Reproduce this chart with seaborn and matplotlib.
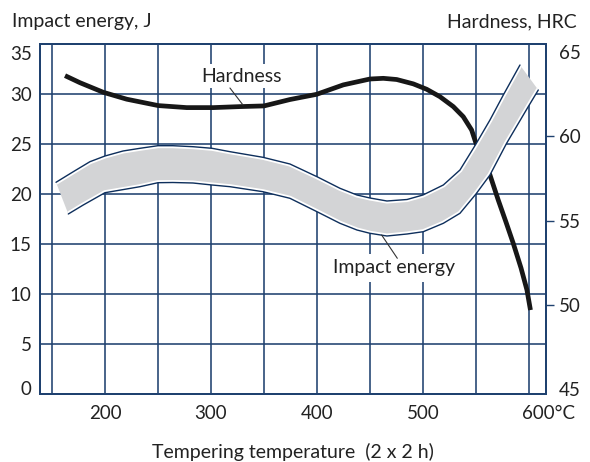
import numpy as np
import pandas as pd
import matplotlib
matplotlib.use("Agg")
import matplotlib.pyplot as plt
import seaborn as sns
from matplotlib.transforms import ScaledTranslation

# ---------------- data ----------------
temp_hard = [162.3, 176.4, 198.4, 220.5, 250.3, 277.1, 302.2, 327.4, 350, 374.5,
             399.7, 424.8, 450, 462.6, 475.2, 490.9, 503.5, 516.0, 528.6,
             538.0, 545.9, 550.0, 563.2, 571.0, 578.3, 585.2, 592.5, 598.1,
             601.4]
hardness_hrc = [63.61, 63.19, 62.62, 62.21, 61.83, 61.71, 61.71, 61.77, 61.81,
                62.19, 62.50, 63.06, 63.41, 63.45, 63.38, 63.12, 62.80, 62.36,
                61.77, 61.17, 60.38, 59.59, 57.71, 56.22, 54.91, 53.64, 52.18,
                50.87, 49.68]

temp_upper = [153.8, 170.1, 185.8, 200, 217, 233, 250, 264, 283, 301, 318, 349,
              374.5, 400, 421.7, 437.7, 450, 466, 485, 500, 519.2, 534.9, 550,
              563.2, 575.8, 591.5]
impact_upper = [21.17, 22.23, 23.23, 23.8, 24.3, 24.57, 24.83, 24.83, 24.73,
                24.57, 24.23, 23.67, 23.0, 21.73, 20.57, 19.9, 19.6, 19.3,
                19.45, 19.9, 20.9, 22.4, 25.0, 27.4, 29.9, 32.9]

temp_lower = [165.4, 179.5, 200, 233, 250, 264, 283, 301, 318, 349, 374.5, 400,
              421.7, 437.7, 450, 466, 485, 500.3, 519.2, 534.9, 550, 563.2,
              578.9, 599.3, 608.8]
impact_lower = [18.0, 18.9, 20.13, 20.73, 21.13, 21.15, 21.1, 20.9, 20.73,
                20.23, 19.57, 18.23, 17.07, 16.4, 16.07, 15.8, 16.0, 16.23,
                17.07, 18.07, 20.0, 21.9, 25.07, 28.73, 30.4]

x_ticks = [150, 200, 250, 300, 350, 400, 450, 500, 550, 600]
x_labels = ["", "200", "", "300", "", "400", "", "500", "", "600°C"]
left_ticks = [0, 5, 10, 15, 20, 25, 30, 35]
right_ticks = [45, 50, 55, 60, 65]

# ---------------- style ----------------
sns.set_theme(style="white")
plt.rcParams["font.family"] = ["Lato", "DejaVu Sans"]
GRID = "#1f416f"
LINE_BLUE = "#0e2f5c"
BAND = "#d3d4d6"
HARD = "#171717"
TXT = "#222222"
TICK_FS = 13.5
LABEL_FS = 14

fig = plt.figure(figsize=(5.9, 4.62), dpi=100)
ax = fig.add_axes([40 / 590, 68 / 462, 505.5 / 590, 350 / 462])
ax2 = ax.twinx()

# grid
ax.set_xticks(x_ticks)
ax.set_xticklabels(x_labels)
ax.set_yticks(left_ticks)
ax.set_yticklabels([str(v) for v in left_ticks])
ax.grid(True, color=GRID, lw=1.15)
ax.set_axisbelow(True)
for a in (ax, ax2):
    for s in a.spines.values():
        s.set_color(GRID)
        s.set_linewidth(1.4)

ax.tick_params(axis="x", length=0, pad=8, labelsize=TICK_FS, labelcolor=TXT)
ax.tick_params(axis="y", length=0, pad=6, labelsize=TICK_FS, labelcolor=TXT)
ax2.set_yticks(right_ticks)
ax2.set_yticklabels([str(v) for v in right_ticks])
ax2.tick_params(axis="y", length=6, width=1.0, color=GRID, pad=3.5,
                labelsize=TICK_FS, labelcolor=TXT)
ax2.grid(False)
mt = ax2.yaxis.get_major_ticks()
mt[0].tick2line.set_visible(False)
mt[-1].tick2line.set_visible(False)

# label tweaks
yl = ax.get_yticklabels()
yl[-1].set_transform(yl[-1].get_transform() + ScaledTranslation(0, -9 / 100, fig.dpi_scale_trans))
yl[0].set_transform(yl[0].get_transform() + ScaledTranslation(0, 6 / 100, fig.dpi_scale_trans))
xl = ax.get_xticklabels()
xl[-1].set_ha("left")
xl[-1].set_transform(xl[-1].get_transform() + ScaledTranslation(-7 / 100, 0, fig.dpi_scale_trans))

# hardness curve (HRC, drawn beneath the band)
sns.lineplot(x=temp_hard, y=hardness_hrc, ax=ax, color=HARD, lw=3.4,
             sort=False, estimator=None, legend=False,
             transform=ax2.transData, zorder=2, solid_capstyle="butt",
             solid_joinstyle="round")

# impact energy scatter band
poly = ax.fill(temp_upper + temp_lower[::-1], impact_upper + impact_lower[::-1],
               color=BAND, lw=0, zorder=3)[0]
for tx, iy in ((temp_upper, impact_upper), (temp_lower, impact_lower)):
    wl, = ax.plot(tx, iy, color="white", lw=3.6, zorder=4)
    wl.set_clip_path(poly)
    sns.lineplot(x=tx, y=iy, ax=ax, color=LINE_BLUE, lw=1.0, sort=False,
                 estimator=None, legend=False, zorder=5)

ax.set_xlim(138.7, 615.6)
ax.set_ylim(0, 35)
ax2.set_ylim(44.69, 65.49)

# annotations
ax.text(328.8, 31.8, "Hardness", fontsize=LABEL_FS, color=TXT, ha="center",
        va="center", zorder=6,
        bbox=dict(facecolor="white", edgecolor="none", pad=2.5))
ax.annotate("", xy=(330.2, 28.9), xytext=(317.9, 30.6),
            arrowprops=dict(arrowstyle="-", lw=0.8, color="#333333",
                            shrinkA=0, shrinkB=0), zorder=6)
ax.text(473.1, 12.6, "Impact energy", fontsize=LABEL_FS, color=TXT,
        ha="center", va="center", zorder=6,
        bbox=dict(facecolor="white", edgecolor="none", pad=4))
ax.annotate("", xy=(475.8, 13.57), xytext=(461.0, 15.9),
            arrowprops=dict(arrowstyle="-", lw=0.8, color="#333333",
                            shrinkA=0, shrinkB=0), zorder=6)

ax.set_xlabel("Tempering temperature  (2 x 2 h)", fontsize=LABEL_FS,
              color=TXT, labelpad=15)
ax.set_ylabel("")
ax2.set_ylabel("")
fig.text(12 / 590, 1 - 22 / 462, "Impact energy, J", fontsize=LABEL_FS,
         color=TXT, ha="left", va="center")
fig.text(577 / 590, 1 - 22 / 462, "Hardness, HRC", fontsize=LABEL_FS,
         color=TXT, ha="right", va="center")

fig.savefig("out.png", dpi=100)
